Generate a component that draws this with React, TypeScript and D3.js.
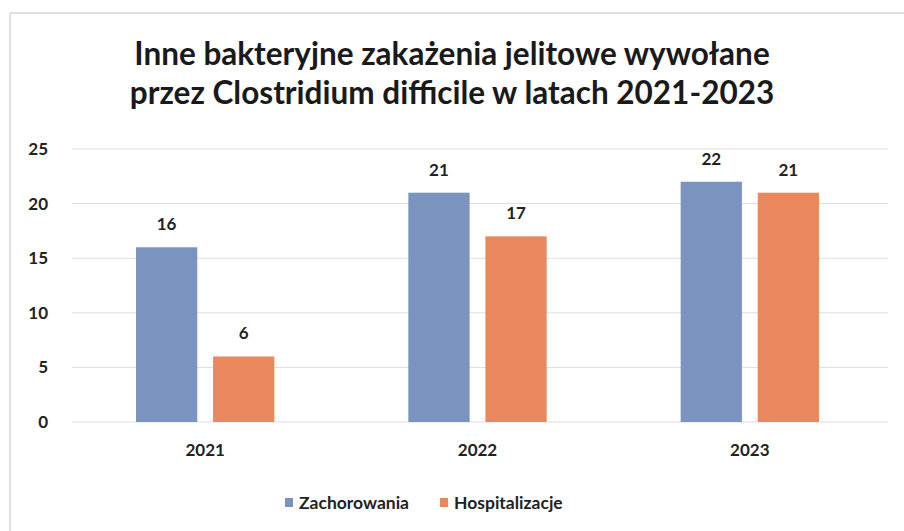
import React from "react";
import * as d3 from "d3";

const categories = ["2021", "2022", "2023"];
const seriesNames = ["Zachorowania", "Hospitalizacje"];
const zachorowania = [16, 21, 22];
const hospitalizacje = [6, 17, 21];
const yTicks = [0, 5, 10, 15, 20, 25];
const titleLines = [
  "Inne bakteryjne zakażenia jelitowe wywołane",
  "przez Clostridium difficile w latach 2021-2023",
];
const colors = ["#7b93bf", "#e9885d"];

const W = 904;
const H = 531;
const FONT = "Lato, 'Open Sans', sans-serif";

export default function App() {
  const left = 72;
  const right = 888;
  const top = 149;
  const bottom = 422;
  const x0 = d3.scaleBand<string>().domain(categories).range([69, 886]).padding(0);
  const y = d3.scaleLinear().domain([0, 25]).range([bottom, top]);
  const bw = x0.bandwidth();
  const barW = bw * 0.225;
  const gap = bw * 0.058;
  const x1 = d3
    .scaleOrdinal<string, number>()
    .domain(seriesNames)
    .range([-(barW + gap / 2), gap / 2]);
  const series = [zachorowania, hospitalizacje];

  return (
    <svg
      width={W}
      height={H}
      style={{ position: "absolute", left: 0, top: 0, background: "#fff" }}
      fontFamily={FONT}
    >
      <rect x={0} y={0} width={W} height={H} fill="#fff" />
      <line x1={10} x2={W} y1={13} y2={13} stroke="#d6d6d6" strokeWidth={1.5} />
      <line x1={10} x2={10} y1={13} y2={H} stroke="#d6d6d6" strokeWidth={1.5} />
      {titleLines.map((t, i) => (
        <text
          key={i}
          x={452}
          y={65 + i * 39}
          textAnchor="middle"
          fontSize={31.5}
          fontWeight={700}
          fill="#1a1a1a"
        >
          {t}
        </text>
      ))}
      {yTicks.map((t) => (
        <g key={t}>
          <line x1={left} x2={right} y1={y(t)} y2={y(t)} stroke="#dedede" strokeWidth={1} />
          <text
            x={48}
            y={y(t)}
            dy="0.35em"
            textAnchor="end"
            fontSize={17}
            fontWeight={700}
            fill="#222"
          >
            {t}
          </text>
        </g>
      ))}
      {categories.map((c, ci) => {
        const cx = (x0(c) as number) + bw / 2;
        return (
          <g key={c}>
            {seriesNames.map((s, si) => {
              const v = series[si][ci];
              const bx = cx + x1(s);
              return (
                <g key={s}>
                  <rect x={bx} y={y(v)} width={barW} height={y(0) - y(v)} fill={colors[si]} />
                  <text
                    x={bx + barW / 2}
                    y={y(v) - 23}
                    dy="0.35em"
                    textAnchor="middle"
                    fontSize={17}
                    fontWeight={700}
                    fill="#222"
                  >
                    {v}
                  </text>
                </g>
              );
            })}
            <text
              x={cx}
              y={450}
              dy="0.35em"
              textAnchor="middle"
              fontSize={17}
              fontWeight={700}
              fill="#222"
            >
              {c}
            </text>
          </g>
        );
      })}
      {seriesNames.map((s, si) => {
        const lx = si === 0 ? 285 : 440;
        return (
          <g key={s}>
            <rect x={lx} y={498} width={8} height={9} fill={colors[si]} />
            <text x={lx + 14} y={503} dy="0.35em" fontSize={17.5} fontWeight={700} fill="#222">
              {s}
            </text>
          </g>
        );
      })}
    </svg>
  );
}
